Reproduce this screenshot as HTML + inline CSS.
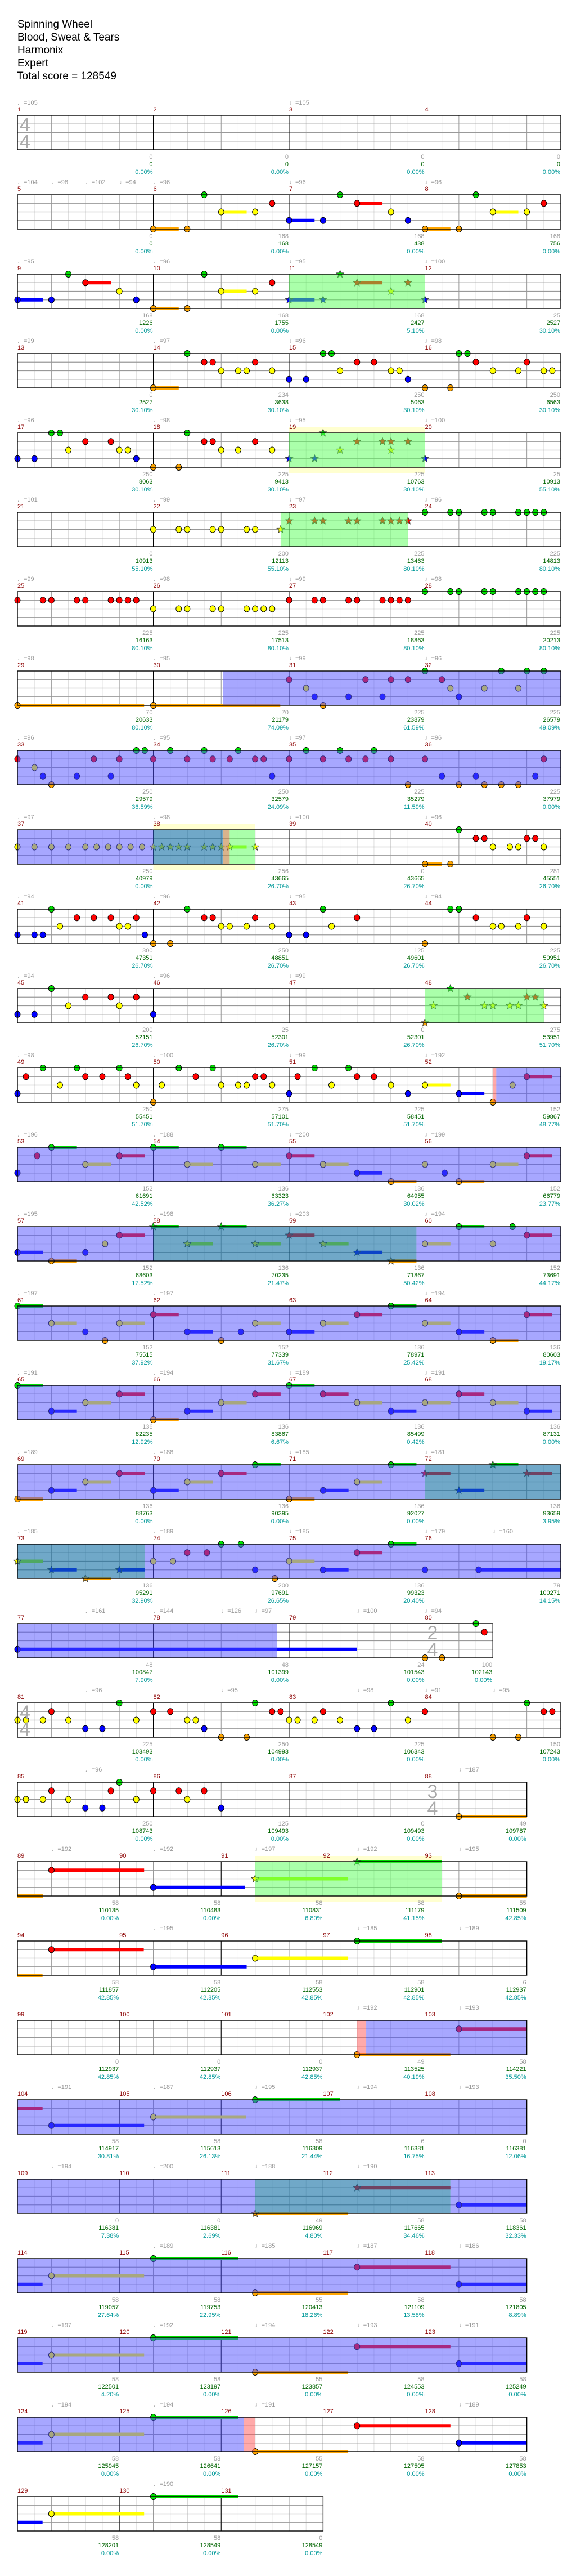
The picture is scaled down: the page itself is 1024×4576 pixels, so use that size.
<!DOCTYPE html>
<html><head><meta charset="utf-8"><style>
html,body{margin:0;padding:0;background:#fff;}
svg{display:block;}
text{font-family:"Liberation Sans","DejaVu Sans",sans-serif;}
</style></head><body>
<svg id="s" xmlns="http://www.w3.org/2000/svg" width="1024" height="4576" viewBox="0 0 1024 4576">
<rect x="0" y="0" width="1024" height="4576" fill="#fff"/>
<g id="gbg"></g><g id="ggrid"></g><g id="gnotes"></g><g id="gover"></g><g id="gborder"></g>
<g id="gtext">
<text x="31" y="49" font-size="19" fill="#000">Spinning Wheel</text>
<text x="31" y="72" font-size="19" fill="#000">Blood, Sweat &amp; Tears</text>
<text x="31" y="95" font-size="19" fill="#000">Harmonix</text>
<text x="31" y="118" font-size="19" fill="#000">Expert</text>
<text x="30" y="141" font-size="19" fill="#000">Total score = 128549</text>
</g>
</svg>
<script>
const NS='http://www.w3.org/2000/svg';
const G={bg:document.getElementById('gbg'),grid:document.getElementById('ggrid'),notes:document.getElementById('gnotes'),over:document.getElementById('gover'),border:document.getElementById('gborder'),text:document.getElementById('gtext')};
function el(g,t,a,txt){const e=document.createElementNS(NS,t);for(const k in a)e.setAttribute(k,a[k]);if(txt!=null)e.textContent=txt;G[g].appendChild(e);return e;}
const B=60.375,X0=31;
const COL={G:'#00e000',R:'#ff0000',Y:'#ffff00',B:'#0000ff',O:'#ffa500'};
const SI={G:0,R:1,Y:2,B:3,O:4};
const RC={b:['#5050ff',0.5],g:['#55ff55',0.5],t:['#116ea3',0.6],p:['#ff5555',0.5],o:['#c08040',0.6]};
function star(cx,cy,r1,r2){let p=[];for(let i=0;i<10;i++){const a=-Math.PI/2+i*Math.PI/5;const r=i%2?r2:r1;p.push((cx+r*Math.cos(a)).toFixed(1)+','+(cy+r*Math.sin(a)).toFixed(1));}return p.join(' ');}
function row(r,m0,meas,tempos,regs,notes,gray,green,teal,ts){
 const T=205+r*141;const total=meas.reduce((a,b)=>a+b,0);const W=total*B;
 // yellow boxes
 regs.filter(g=>g[0]=='y').forEach(g=>el('bg','rect',{x:X0+g[1]*B,y:T-10,width:(g[2]-g[1])*B,height:81,fill:'#ffffd0'}));
 el('bg','rect',{x:X0,y:T,width:W,height:61,fill:'#fff'});
 for(let i=1;i<total*2;i++){const x=X0+i*B/2;el('grid','line',{x1:x,y1:T,x2:x,y2:T+61,stroke:i%2?'#dddddd':'#999',"stroke-width":1});}
 for(let k=1;k<4;k++){const y=T+k*15.25;el('grid','line',{x1:X0,y1:y,x2:X0+W,y2:y,stroke:'#999',"stroke-width":1.3});}
 let mb=0;const starts=[];meas.forEach(m=>{starts.push(mb);mb+=m;});
 starts.forEach((s,i)=>{if(i>0)el('grid','line',{x1:X0+s*B,y1:T,x2:X0+s*B,y2:T+61,stroke:'#000',"stroke-width":1});});
 // notes
 const toks=notes.split(/\s+/).filter(Boolean);
 const heads=[];
 toks.forEach(t=>{const m=t.match(/^([*~]?)([GRYBO])([\d.]+)(?:-([\d.]+))?$/);if(!m)return;
  const s=SI[m[2]],c=COL[m[2]],cx=X0+parseFloat(m[3])*B,cy=T+s*15.25;
  if(m[4]){el('notes','rect',{x:cx,y:cy-3,width:parseFloat(m[4])*B,height:6,fill:(m[1]=='*'&&m[2]=='Y')?'#aaff00':c});}
  if(m[1]!='~')heads.push([m[1],c,cx,cy]);});
 heads.forEach(h=>{if(h[0]=='*')el('notes','polygon',{points:star(h[2],h[3],7,3),fill:h[1],stroke:'#333',"stroke-width":0.8});
  else el('notes','ellipse',{cx:h[2],cy:h[3],rx:5,ry:5.6,fill:h[1],stroke:'#000',"stroke-width":0.9});});
 regs.filter(g=>g[0]!='y').forEach(g=>{const c=RC[g[0]];el('over','rect',{x:X0+g[1]*B,y:T,width:(g[2]-g[1])*B,height:61,fill:c[0],"fill-opacity":c[1]});});
 el('border','rect',{x:X0,y:T,width:W,height:61,fill:'none',stroke:'#000',"stroke-width":1.4});
 // text
 tempos.forEach(tp=>el('text','text',{x:X0+tp[0]*B,y:T-19,"font-size":11,fill:'#999'},'\u2669='+tp[1]));
 starts.forEach((s,i)=>el('text','text',{x:X0+s*B,y:T-7,"font-size":11,fill:'#8b0000'},String(m0+i)));
 meas.forEach((m,i)=>{const x=X0+(starts[i]+m)*B-1;
  if(gray[i]!=null)el('text','text',{x:x,y:T+77,"font-size":11,fill:'#999',"text-anchor":'end'},String(gray[i]));
  if(green[i]!=null)el('text','text',{x:x,y:T+90,"font-size":11,fill:'#006400',"text-anchor":'end'},String(green[i]));
  if(teal[i]!=null)el('text','text',{x:x,y:T+104,"font-size":11,fill:'#009999',"text-anchor":'end'},teal[i].toFixed(2)+'%');});
 (ts||[]).forEach(t=>{const x=X0+t[0]*B+4;el('text','text',{x:x,y:T+28,"font-size":34,fill:'#aaa'},t[1]);el('text','text',{x:x,y:T+58,"font-size":34,fill:'#aaa'},t[2]);});
}
const Q=[4,4,4,4],F=[3,3,3,3,3];
row(0,1,Q,[[0,105],[8,105]],[],"",[0,0,0,0],[0,0,0,0],[0,0,0,0],[[0,'4','4']]);
row(1,5,Q,[[0,104],[1,98],[2,102],[3,94],[4,96],[8,96],[12,96]],[],
"G5.5 G9.5 G13.5 R7.5 R10-.75 R15.5 Y6-.75 Y7 Y11 Y14-.75 Y15 B8-.75 B9 B11.5 O4-.75 O5 O12-.75 O13",
[0,168,168,168],[0,168,438,756],[0,0,0,0]);
row(2,9,Q,[[0,95],[4,96],[8,95],[12,100]],[['g',8,12]],
"G1.5 G5.5 *G9.5 R2-.75 R7.5 *R10-.75 *R11.5 Y3 Y6-.75 Y7 *Y11 B0-.75 B1 B3.5 *B8-.75 *B9 *B12 O4-.75 O5",
[168,168,168,25],[1226,1755,2427,2527],[0,0,5.10,30.10]);
row(3,13,Q,[[0,99],[4,97],[8,96],[12,98]],[],
"G5 G9 G9.25 G13 G13.25 R5.5 R5.75 R7 R10 R10.5 R13.5 R15 Y6 Y6.5 Y6.75 Y7.5 Y9.5 Y11 Y11.25 Y14 Y14.75 Y15.5 Y15.75 B8 B8.5 B11.5 O4-.75 O12 O12.75",
[0,234,250,250],[2527,3638,5063,6563],[30.10,30.10,30.10,30.10]);
row(4,17,Q,[[0,96],[4,98],[8,95],[12,100]],[['y',8,12],['g',8,12]],
"G1 G1.25 G5 *G9 R2 R2.75 R5.5 R5.75 R7 *R10 *R10.75 *R11 *R11.5 Y1.5 Y3 Y3.25 Y6 Y6.5 Y7.5 *Y9.5 *Y11 B0 B.5 B3.5 *B8 *B8.75 *B12 O4 O4.75",
[250,225,225,25],[8063,9413,10763,10913],[30.10,30.10,30.10,55.10]);
row(5,21,Q,[[0,101],[4,99],[8,97],[12,96]],[['g',7.75,11.5]],
"Y4 Y4.75 Y5 Y5.75 Y6 Y6.75 Y7 *Y7.75 *R8 *R8.75 *R9 *R9.75 *R10 *R10.75 *R11 *R11.25 *R11.5 G12 G12.75 G13 G13.75 G14 G14.75 G15 G15.25 G15.5",
[0,200,225,225],[10913,12113,13463,14813],[55.10,55.10,80.10,80.10]);
row(6,25,Q,[[0,99],[4,98],[8,99],[12,98]],[],
"R0 R.75 R1 R1.75 R2 R2.75 R3 R3.25 R3.5 R8 R8.75 R9 R9.75 R10 R10.75 R11 R11.25 R11.5 Y4 Y4.75 Y5 Y5.75 Y6 Y6.75 Y7 Y7.25 Y7.5 G12 G12.75 G13 G13.75 G14 G14.75 G15 G15.25 G15.5",
[225,225,225,225],[16163,17513,18863,20213],[80.10,80.10,80.10,80.10]);
row(7,29,Q,[[0,98],[4,95],[8,99],[12,96]],[['b',6.05,16]],
"O0-3.73 O4-3.74 O9 G12 G14.25 G15 G15.5 R8 R10.25 R11 R11.5 R12.5 Y8.5 Y12.75 Y13.75 Y14.75 B8.75 B9.75 B10.75 B13",
[70,70,225,225],[20633,21179,23879,26579],[80.10,74.09,61.59,49.09]);
row(8,33,Q,[[0,96],[4,95],[8,97],[12,96]],[['b',0,16]],
"G3.5 G3.75 G4.5 G5.5 G6.5 G8.5 G9.5 G10.5 R0 R2.25 R3 R4 R5 R5.75 R6.25 R7 R7.25 R8 R9 R9.75 R10.25 R11 R12 R15.5 Y.5 B.75 B1.75 B2.75 B7.5 B12.5 B13.5 B15.25 O1 O11.5 O13 O13.75 O14.25 O14.75",
[250,250,225,225],[29579,32579,35279,37979],[36.59,24.09,11.59,0.00]);
row(9,37,Q,[[0,97],[4,98],[8,100],[12,96]],[['y',4,7],['b',0,4],['t',4,6.05],['o',6.05,6.25],['g',6.25,7]],
"Y0 Y.5 Y1 Y1.5 Y2 Y2.33 Y2.67 Y3 Y3.33 Y3.67 *Y4 *Y4.25 *Y4.5 *Y4.75 *Y5 *Y5.5 *Y5.75 *Y6 *Y6.25-.5 *Y7 G13 R13.5 R13.75 R15 R15.25 Y14 Y14.5 Y14.75 Y15.5 O12-.5 O12.75",
[250,256,0,281],[40979,43665,43665,45551],[0.00,26.70,26.70,26.70]);
row(10,41,Q,[[0,94],[4,96],[8,95],[12,94]],[],
"G1 G5 G9 G12.75 G13 R1.75 R2.25 R2.75 R3.5 R5.5 R5.75 R7 R10 R13.5 R15 Y1.25 Y3 Y3.25 Y6 Y6.25 Y6.75 Y7.5 Y9.25 Y14 Y14.25 Y14.75 Y15.5 B0 B.5 B.75 B3.75 B8 B8.5 O4 O4.5 O12",
[300,250,125,225],[47351,48851,49601,50951],[26.70,26.70,26.70,26.70]);
row(11,45,Q,[[0,94],[4,96],[8,99]],[['g',12,15.5]],
"G1 *G12.75 R2 R2.75 R3.5 *R13.25 *R15 *R15.25 Y1.5 Y3 *Y12.25 *Y13.75 *Y14 *Y14.5 *Y14.75 *Y15.5 B0 B.5 B4 *O12",
[200,25,0,275],[52151,52301,52301,53951],[26.70,26.70,26.70,51.70]);
row(12,49,Q,[[0,98],[4,100],[8,99],[12,192]],[['p',14,14.1],['b',14.1,16]],
"G.75 G1.75 G3 G4.75 G5.75 G8.75 G9.75 R.25 R2 R2.5 R3.25 R5.25 R7 R7.25 R8.25 R10 R10.5 R15-.75 Y1.25 Y3.5 Y4.25 Y6 Y6.5 Y6.75 Y7.5 Y9.25 Y11 Y12-.75 Y14.58 B0 B8 B11.5 B13-.75 O4 O14",
[250,275,225,152],[55451,57101,58451,59867],[51.70,51.70,51.70,48.77]);
row(13,53,Q,[[0,196],[4,188],[8,200],[12,199]],[['b',0,16]],
"G1-.75 G4-.75 G6-.75 R.58 R3-.75 R8-.75 R15-.75 Y2-.75 Y5-.75 Y7-.75 Y9-.75 Y12 Y14-.75 B0 B10-.75 B12.58 O11-.75 O13-.75",
[152,136,136,152],[61691,63323,64955,66779],[42.52,36.27,30.02,23.77]);
row(14,57,Q,[[0,195],[4,198],[8,203],[12,194]],[['b',0,4],['t',4,11.75],['b',11.75,16]],
"*G4-.75 *G6-.75 G13-.75 G14.58 R3-.75 *R8-.75 R15-.75 Y2.58 *Y5-.75 *Y7-.75 *Y9-.75 Y12-.75 Y14 B0-.75 B2 *B10-.75 O1-.75 *O11-.75",
[152,136,136,152],[68603,70235,71867,73691],[17.52,21.47,50.42,44.17]);
row(15,61,Q,[[0,197],[4,197],[12,194]],[['b',0,16]],
"G0-.75 G11-.75 R4-.75 R10-.75 R15-.75 Y1-.75 Y3-.75 Y7-.75 Y9-.75 Y12-.75 B2 B5-.75 B6.58 B8-.75 B13-.75 O2.58 O6 O14-.75",
[152,152,136,136],[75515,77339,78971,80603],[37.92,31.67,25.42,19.17]);
row(16,65,Q,[[0,191],[4,194],[8,189],[12,191]],[['b',0,16]],
"G0-.75 G8-.75 R3-.75 R7-.75 R9-.75 R13-.75 Y2-.75 Y6-.75 Y10-.75 Y12-.75 Y14-.75 B1-.75 B5-.75 B11-.75 B15-.75 O4-.75",
[136,136,136,136],[82235,83867,85499,87131],[12.92,6.67,0.42,0.00]);
row(17,69,Q,[[0,189],[4,188],[8,185],[12,181]],[['b',0,12],['t',12,16]],
"G7-.75 G11-.75 *G14-.75 R3-.75 R6-.75 *R12-.75 *R15-.75 Y2-.75 Y5-.75 Y10-.75 B1-.75 B4-.75 B9-.75 *B13-.75 O0-.75 O8-.75",
[136,136,136,136],[88763,90395,92027,93659],[0.00,0.00,0.00,3.95]);
row(18,73,Q,[[0,185],[4,189],[8,185],[12,179],[14,160]],[['t',0,3.75],['b',3.75,16]],
"*Y0-.75 Y4 Y4.58 Y8-.75 *B1-.75 *B3-.75 B7 B9-.75 B12 B13.58-2.42 *O2-.75 O7.58 R5 R5.58 R10-.75 G6 G6.58 G11-.75",
[136,200,136,79],[95291,97691,99323,100271],[32.90,26.65,20.40,14.15]);
row(19,77,[4,4,4,2],[[2,161],[4,144],[6,126],[7,97],[10,100],[12,94]],[['b',0,7.64]],
"B0-10 O12 O12.5 G13.5 R13.75",
[48,48,24,100],[100847,101399,101543,102143],[7.90,0.00,0.00,0.00],[[12,'2','4']]);
row(20,81,Q,[[2,96],[6,95],[10,98],[12,91],[14,95]],[],
"Y0 Y.25 Y.75 Y1.5 Y3.5 Y5 Y5.25 Y8 Y8.25 Y8.75 Y9.5 Y11.5 R1 R4 R4.5 R7.5 R7.75 R9 R12 R15.5 R15.75 G3 G7 G11 G15 B2 B2.5 B5.5 B10 B10.5 O6 O6.75 O14 O14.75",
[225,250,225,150],[103493,104993,106343,107243],[0,0,0,0],[[0,'4','4']]);
row(21,85,[4,4,4,3],[[2,96],[13,187]],[],
"Y0 Y.25 Y.75 Y1.5 Y3.5 Y5 R1 R2.75 R4 R4.75 R5.5 G3 B2 B2.5 B6 O13-2",
[250,125,0,49],[108743,109493,109493,109787],[0,0,0,0],[[12,'3','4']]);
row(22,89,F,[[1,192],[4,192],[7,197],[10,192],[13,195]],[['y',7,12.5],['g',7,12.5]],
"~O0-.75 O13-2 R1-2.73 B4-2.7 *Y7-2.74 *G10-2.5",
[58,58,58,58,55],[110135,110483,110831,111179,111509],[0.00,0.00,6.80,41.15,42.85]);
row(23,94,F,[[4,195],[10,185],[13,189]],[],
"~O0-.74 R1-2.72 B4-2.75 Y7-2.74 G10-2.5",
[58,58,58,58,6],[111857,112205,112553,112901,112937],[42.85,42.85,42.85,42.85,42.85]);
row(24,99,F,[[10,192],[13,193]],[['p',10,10.27],['b',10.27,15]],
"O10-2.75 R13-2",
[0,0,0,49,58],[112937,112937,112937,113525,114221],[42.85,42.85,42.85,40.19,35.50]);
row(25,104,F,[[1,191],[4,187],[7,195],[10,194],[13,193]],[['b',0,15]],
"~R0-.74 B1-2.73 Y4-2.74 G7-2.5",
[58,58,58,6,0],[114917,115613,116309,116381,116381],[30.81,26.13,21.44,16.75,12.06]);
row(26,109,F,[[1,194],[4,200],[7,188],[10,190]],[['b',0,7],['t',7,12.75],['b',12.75,15]],
"*O7-2.74 *R10-2.75 B13-2",
[0,0,49,58,58],[116381,116381,116969,117665,118361],[7.38,2.69,4.80,34.46,32.33]);
row(27,114,F,[[4,189],[7,185],[10,187],[13,186]],[['b',0,15]],
"~B0-.74 Y1-2.73 G4-2.5 O7-2.74 R10-2.75 B13-2",
[58,58,55,58,58],[119057,119753,120413,121109,121805],[27.64,22.95,18.26,13.58,8.89]);
row(28,119,F,[[1,197],[4,192],[7,194],[10,193],[13,191]],[['b',0,15]],
"~B0-.74 Y1-2.73 G4-2.5 O7-2.74 R10-2.75 B13-2",
[58,58,55,58,58],[122501,123197,123857,124553,125249],[4.20,0,0,0,0]);
row(29,124,F,[[1,194],[4,194],[7,191],[13,189]],[['b',0,6.67],['p',6.67,7]],
"~B0-.74 Y1-2.73 G4-2.5 O7-2.74 R10-2.75 B13-2",
[58,58,55,58,58],[125945,126641,127157,127505,127853],[0,0,0,0,0]);
row(30,129,[3,3,3],[[4,190]],[],
"~B0-.74 Y1-2.73 G4-2.5",
[58,58,0],[128201,128549,128549],[0,0,0]);
</script>
</body></html>
